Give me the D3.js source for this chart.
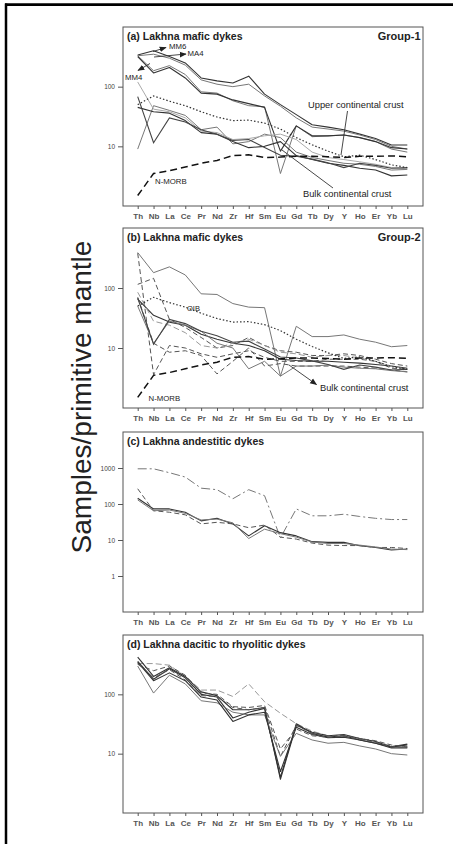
<!DOCTYPE html>
<html>
<head>
<meta charset="utf-8">
<script src="https://cdn.jsdelivr.net/npm/d3@7.9.0/dist/d3.min.js"></script>
<style>
  body { margin: 0; background: #fff; }
  svg { display: block; font-family: "Liberation Sans", Arial, sans-serif; }
</style>
</head>
<body>
<svg id="chart" width="453" height="844"></svg>
<script>
// element order on the x axis
const elements = ['Th','Nb','La','Ce','Pr','Nd','Zr','Hf','Sm','Eu','Gd','Tb','Dy','Y','Ho','Er','Yb','Lu'];

// reference compositions (normalised to primitive mantle)
const nMorb     = [1.5, 3.5, 3.9, 4.5, 5.2, 5.8, 7.0, 7.2, 6.5, 6.6, 6.8, 6.8, 6.7, 6.5, 6.8, 6.8, 6.9, 6.7];
const oib       = [50, 70, 57, 48, 38, 31, 27, 27.5, 24.5, 19.5, 14, 10.6, 8.3, 6.7, 7.1, 6.0, 4.9, 4.4];
const bulkCrust = [68, 11.5, 30, 25.5, 19, 16, 12.5, 13, 9.6, 7.1, 6.8, 6.1, 5.3, 4.4, 5.2, 4.8, 4.3, 4.4];

// (a) mafic dykes, group-1
const groupOne = [
  [340, 400, 320, 250, 140, 125, 115, 150, 75, 50, 34, 23, 21, 19, 16, 13.5, 10.5, 10.5],
  [330, 350, 300, 230, 130, 110, 100, 110, 70, 47, 30, 21, 19.5, 18, 15.5, 13, 10, 9],
  [330, 185, 225, 160, 82, 78, 58, 48, 46, 3.5, 22, 14.5, 15, 15.5, 14, 12, 9, 8],
  [320, 170, 210, 140, 78, 75, 60, 52, 45, 8.3, 22, 15, 15, 15.5, 14, 12, 9.5, 9],
  [9, 48, 40, 33, 19, 21, 11, 12, 16, 14, 8, 6.5, 5.8, 5.2, 5, 4.6, 4, 4.1],
  [45, 38, 36, 27, 17, 16, 12, 9.5, 10, 12, 7, 6, 5.2, 4.8, 4.3, 4, 3.2, 3.3],
  [120, 42, 38, 30, 18, 17, 13, 13.5, 15, 16, 13, 8, 6.5, 6, 5.5, 5, 4.4, 4.2]
];
const groupOneStyle = ['dark', 'grey', 'grey', 'dark', 'grey', 'dark', 'light'];

// (b) mafic dykes, group-2
const groupTwo = [
  [390, 180, 225, 165, 80, 78, 55, 48, 47, 3.4, 23, 15.5, 15.5, 16.5, 14, 12.5, 10.5, 11],
  [380, 3.6, 11, 10, 8, 7, 8, 9, 7, 6, 6, 6, 6.5, 6.5, 6.5, 6, 4.6, 4.5],
  [115, 145, 30, 22, 15, 10, 11, 15, 11, 9, 8.5, 7.5, 7.5, 8, 7.5, 6.5, 5.5, 5],
  [65, 35, 27, 24, 17, 14, 12, 11, 9, 6.5, 6.2, 6, 6, 5.8, 5.6, 5.3, 5, 4.6],
  [85, 28, 24, 18, 11, 10, 12, 14, 11, 8.5, 8, 7, 7.5, 7.5, 6.8, 6, 5, 4.4],
  [70, 12, 8.5, 9, 7.5, 3.7, 6, 10, 5, 5.5, 5, 5, 5, 5, 4.8, 4.6, 4.3, 4],
  [50, 12, 28, 24, 19, 12, 10, 4.5, 6, 3.4, 5, 5, 5.2, 4.8, 4.6, 4.5, 4.2, 4]
];
const groupTwoStyle = ['grey', 'dash', 'dash', 'dark', 'dashLight', 'dash', 'grey'];

// (c) andesitic dykes
const andesitic = [
  [950, 950, 740, 560, 275, 250, 140, 250, 170, 11.5, 73, 47, 47, 52, 45, 40, 37, 37],
  [145, 73, 73, 59, 34, 40, 28, 13, 25, 16, 13, 9, 8.6, 8.6, 6.9, 6.2, 5.3, 5.6],
  [265, 65, 59, 50, 28, 31, 28, 22, 26, 12, 10.6, 8.2, 7.2, 7, 7, 6.2, 6.2, 5.8],
  [130, 65, 68, 55, 36, 38, 30, 11, 20, 15, 12, 8.8, 8, 8, 7.2, 6.4, 5.6, 5.4]
];
const andesiticStyle = ['dashDot', 'dark', 'dash', 'grey'];

// (d) dacitic to rhyolitic dykes
const dacitic = [
  [330, 330, 310, 200, 118, 118, 92, 150, 75, 48, 32, 24, 20, 20, 18, 16, 13.5, 13],
  [425, 200, 280, 200, 110, 95, 55, 55, 60, 3.7, 30, 23, 20, 21, 18, 16, 13, 14.5],
  [360, 180, 270, 190, 100, 90, 40, 50, 58, 4, 32, 22, 19, 20, 17, 15, 13, 14],
  [330, 190, 260, 175, 95, 92, 60, 55, 60, 9, 30, 22, 20, 20.5, 18, 16.5, 14, 13],
  [300, 105, 210, 150, 78, 72, 50, 45, 45, 9, 22, 17, 15, 15.5, 13.5, 12, 10, 9.5],
  [350, 170, 230, 170, 90, 80, 35, 45, 50, 5, 28, 21, 18.5, 19, 17, 15, 12.5, 12.5],
  [320, 250, 300, 210, 105, 100, 62, 60, 65, 12, 26, 20, 19, 19.5, 17.5, 15.5, 13, 13]
];
const daciticStyle = ['dashLight', 'dark', 'dark', 'dash', 'grey', 'dark', 'dash'];

const styles = {
  dark:      { stroke: '#333', width: 1.1, dash: null },
  grey:      { stroke: '#777', width: 1, dash: null },
  light:     { stroke: '#aaa', width: 1, dash: null },
  dash:      { stroke: '#555', width: 1, dash: '5,3' },
  dashLight: { stroke: '#999', width: 1, dash: '6,3' },
  dashDot:   { stroke: '#777', width: 1, dash: '9,3,2,3' }
};

const svg = d3.select('#chart');
const x = d3.scalePoint().domain(elements).range([137.7, 407.3]);
const frameLeft = 123, frameRight = 423;

const defs = svg.append('defs');
defs.append('marker')
  .attr('id', 'arrow')
  .attr('viewBox', '0 0 10 10')
  .attr('refX', 9).attr('refY', 5)
  .attr('markerUnits', 'userSpaceOnUse')
  .attr('markerWidth', 7).attr('markerHeight', 7)
  .attr('orient', 'auto')
  .append('path').attr('d', 'M0,1L10,5L0,9Z').attr('fill', '#222');

// outer border of the figure
svg.append('line').attr('x1', 6).attr('x2', 6).attr('y1', 3.5).attr('y2', 844)
  .attr('stroke', '#000').attr('stroke-width', 2.5);
svg.append('line').attr('x1', 5).attr('x2', 453).attr('y1', 4.7).attr('y2', 4.7)
  .attr('stroke', '#000').attr('stroke-width', 2.7);

const panels = [
  { top: 27, bottom: 206, domain: [1, 1000], ticks: [10, 100],
    title: '(a) Lakhna mafic dykes', group: 'Group-1',
    samples: groupOne, sampleStyle: groupOneStyle, refs: true },
  { top: 228, bottom: 408, domain: [1, 1000], ticks: [10, 100],
    title: '(b) Lakhna mafic dykes', group: 'Group-2',
    samples: groupTwo, sampleStyle: groupTwoStyle, refs: true },
  { top: 432, bottom: 612, domain: [0.1, 10000], ticks: [1, 10, 100, 1000],
    title: '(c) Lakhna andestitic dykes', group: null,
    samples: andesitic, sampleStyle: andesiticStyle, refs: false },
  { top: 635, bottom: 813, domain: [1, 1000], ticks: [10, 100],
    title: '(d) Lakhna dacitic to rhyolitic dykes', group: null,
    samples: dacitic, sampleStyle: daciticStyle, refs: false }
];

panels.forEach((p, pi) => {
  const y = d3.scaleLog().domain(p.domain).range([p.bottom, p.top]);
  p.y = y;
  const g = svg.append('g');

  const line = d3.line()
    .x((d, i) => x(elements[i]))
    .y(d => y(d));

  // sample patterns
  p.samples.forEach((s, i) => {
    const st = styles[p.sampleStyle[i]];
    g.append('path')
      .attr('d', line(s))
      .attr('fill', 'none')
      .attr('stroke', st.stroke)
      .attr('stroke-width', st.width)
      .attr('stroke-dasharray', st.dash)
      .attr('stroke-linejoin', 'round');
  });

  if (p.refs) {
    g.append('path').attr('d', line(bulkCrust)).attr('fill', 'none')
      .attr('stroke', '#444').attr('stroke-width', 1.1);
    g.append('path').attr('d', line(oib)).attr('fill', 'none')
      .attr('stroke', '#333').attr('stroke-width', 1.2).attr('stroke-dasharray', '1.5,2');
    g.append('path').attr('d', line(nMorb)).attr('fill', 'none')
      .attr('stroke', '#111').attr('stroke-width', 1.5).attr('stroke-dasharray', '7,4');
  }

  // frame
  g.append('rect')
    .attr('x', frameLeft).attr('y', p.top)
    .attr('width', frameRight - frameLeft).attr('height', p.bottom - p.top)
    .attr('fill', 'none').attr('stroke', '#555').attr('stroke-width', 1);

  // axes
  const yAxis = g.append('g')
    .attr('transform', `translate(${frameLeft},0)`)
    .call(d3.axisLeft(y).tickValues(p.ticks).tickFormat(d3.format('d')).tickSize(5).tickPadding(3));
  yAxis.select('.domain').remove();
  yAxis.selectAll('line').attr('stroke', '#555');
  yAxis.selectAll('text').attr('font-size', 6.5).attr('fill', '#444')
    .attr('font-family', '"Liberation Sans", Arial, sans-serif');

  const xAxis = g.append('g')
    .attr('transform', `translate(0,${p.bottom})`)
    .call(d3.axisBottom(x).tickSize(3).tickPadding(4));
  xAxis.select('.domain').remove();
  xAxis.selectAll('line').attr('stroke', '#555');
  xAxis.selectAll('text').attr('font-size', 8).attr('font-weight', 'bold').attr('fill', '#555')
    .attr('font-family', '"Liberation Sans", Arial, sans-serif');

  // panel titles
  g.append('text').attr('x', 127).attr('y', p.top + 12.5)
    .attr('font-size', 10.5).attr('font-weight', 'bold').attr('fill', '#222')
    .text(p.title);
  if (p.group) {
    g.append('text').attr('x', 420.5).attr('y', p.top + 13).attr('text-anchor', 'end')
      .attr('font-size', 11).attr('font-weight', 'bold').attr('fill', '#222')
      .text(p.group);
  }
});

// annotations
function label(txt, xx, yy, size) {
  svg.append('text').attr('x', xx).attr('y', yy)
    .attr('font-size', size).attr('fill', '#222').text(txt);
}
function pointer(x1, y1, x2, y2, arrow) {
  svg.append('line').attr('x1', x1).attr('y1', y1).attr('x2', x2).attr('y2', y2)
    .attr('stroke', '#333').attr('stroke-width', 0.9)
    .attr('marker-end', arrow ? 'url(#arrow)' : null);
}

// panel (a)
label('MM6', 169, 48.5, 7.8);
pointer(153, 51.5, 166, 47.5, true);
label('MA4', 187.5, 56, 7.8);
pointer(154, 57, 186, 54, true);
label('MM4', 125, 80, 7.8);
pointer(150, 63.5, 138, 70.5, true);
label('Upper continental crust', 308, 108, 9.3);
pointer(347.5, 111, 341, 155, false);
label('Bulk continental crust', 303, 197, 9.3);
pointer(333, 188, 282, 150, false);
label('N-MORB', 155, 183.5, 7.8);

// panel (b)
label('OIB', 187, 311, 7.5);
label('N-MORB', 148.5, 401, 7.8);
label('Bulk continental crust', 320, 390.5, 9.3);
pointer(289, 365, 316.5, 384.5, true);

// y-axis title
svg.append('text')
  .attr('transform', 'translate(91,397) rotate(-90)')
  .attr('text-anchor', 'middle')
  .attr('font-size', 28).attr('fill', '#222')
  .text('Samples/primitive mantle');
</script>
</body>
</html>
